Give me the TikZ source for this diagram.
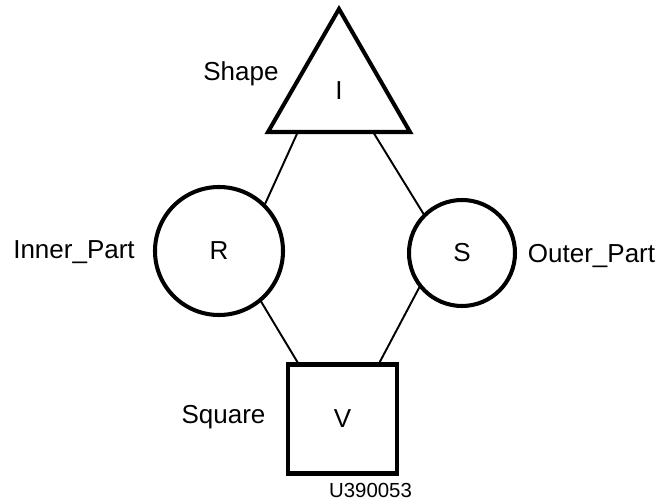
\documentclass[tikz,border=0pt]{standalone}
\usepackage{fontspec}
\setmainfont{Liberation Sans}
\usetikzlibrary{calc,shapes.geometric}

\begin{document}
\begin{tikzpicture}[every node/.style={font=\fontsize{14.8}{17}\selectfont},
  part/.style={draw, line width=2.3pt, inner sep=0pt, outer sep=0pt},
  link/.style={line width=1.1pt}]
  \useasboundingbox (0,0) rectangle (13.16,10.04);
  % the four parts
  \node[part, regular polygon, regular polygon sides=3, minimum size=3.28cm] (I) at (6.78,8.22) {I};
  \node[part, circle, minimum size=2.56cm] (R) at (4.38,5.02) {R};
  \node[part, circle, minimum size=2.12cm] (S) at (9.24,4.98) {S};
  \node[part, minimum size=2.18cm] (V) at (6.85,1.66) {V};
  % names
  \node[anchor=base] (shape) at (4.82,8.42) {Shape};
  \node[anchor=base] (inner) at (1.48,4.86) {Inner\_Part};
  \node[anchor=base] (outer) at (11.83,4.79) {Outer\_Part};
  \node[anchor=base] (square) at (4.47,1.58) {Square};
  \node[anchor=base, font=\fontsize{11.6}{14}\selectfont] (code) at (7.41,0.1) {U390053};
  % links
  \draw[link] ($(I.corner 2)!0.21!(I.corner 3)$) -- (R.45);
  \draw[link] ($(I.corner 2)!0.74!(I.corner 3)$) -- (S.135);
  \draw[link] (R.-50) -- ($(V.north west)!0.1!(V.north east)$);
  \draw[link] (S.-142) -- ($(V.north west)!0.83!(V.north east)$);
\end{tikzpicture}
\end{document}
